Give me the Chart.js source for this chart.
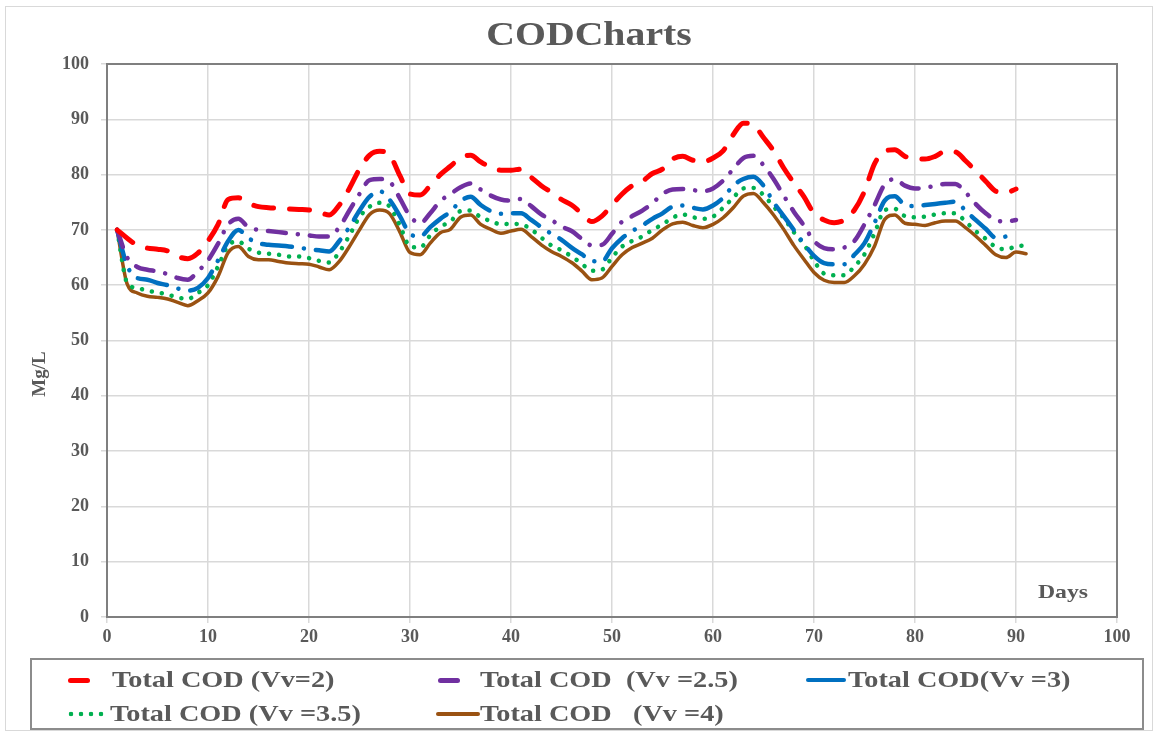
<!DOCTYPE html>
<html>
<head>
<meta charset="utf-8">
<script src="https://cdn.jsdelivr.net/npm/chart.js@4.4.0/dist/chart.umd.min.js"></script>
<style>
  body { margin: 0; background: #fff; }
  #wrap { position: relative; width: 1161px; height: 735px; font-family: "Liberation Serif", "Times New Roman", serif; }
  #frame { position: absolute; left: 5px; top: 6px; width: 1146px; height: 723px; border: 1px solid #d9d9d9; pointer-events: none; }
  #legend { position: absolute; left: 30px; top: 658px; width: 1110px; height: 68px; border: 2px solid #8c8c8c; }
  .item { position: absolute; font-weight: bold; font-size: 23px; color: #595959; white-space: pre; line-height: 24px; transform-origin: 0 50%; transform: scaleX(1.23); }
  .swatch { position: absolute; border-radius: 3px; }
</style>
</head>
<body>
<div id="wrap">
  <canvas id="chart" width="1161" height="735"></canvas>
  <div id="frame"></div>
  <div id="legend"></div>
</div>
<script>
// days on the x axis
const days = [
  1, 2, 3, 4, 5, 6, 7, 8, 9, 10, 11, 12, 13, 14, 15, 16, 17, 18, 19, 20,
  21, 22, 23, 24, 25, 26, 27, 28, 29, 30, 31, 32, 33, 34, 35, 36, 37, 38, 39, 40,
  41, 42, 43, 44, 45, 46, 47, 48, 49, 50, 51, 52, 53, 54, 55, 56, 57, 58, 59, 60,
  61, 62, 63, 64, 65, 66, 67, 68, 69, 70, 71, 72, 73, 74, 75, 76, 77, 78, 79, 80,
  81, 82, 83, 84, 85, 86, 87, 88, 89, 90, 91
];

// Total COD, Vv = 2
const codVv2 = [
  70, 68.5, 67.2, 66.7, 66.5, 66.2, 65.2, 64.8, 65.8, 68,
  71, 75.5, 75.8, 74.8, 74.2, 74, 73.9, 73.8, 73.7, 73.6,
  73.2, 72.7, 74.5, 77.5, 81, 83.5, 84.2, 83.5, 79.8, 76.5,
  76.3, 78, 80, 81.5, 83, 83.5, 82.3, 81.3, 80.8, 80.8,
  81, 79.5, 78, 76.8, 75.5, 74.5, 73, 71.5, 72.5, 74.5,
  76.5, 78, 78.8, 80.2, 81, 82.8, 83.3, 82.6, 82.3, 83,
  84.3, 87.2, 89.3, 89, 86.7, 84.3, 81.2, 78.5, 76, 73,
  71.8, 71.3, 71.8, 73.6, 77, 82, 84.2, 84.5, 83.3, 83,
  82.8, 83.3, 84.2, 84.1, 82.5, 80.7, 78.8, 77, 76.7, 77.4
];

// Total COD, Vv = 2.5
const codVv25 = [
  70, 65, 63.3, 62.8, 62.5, 62, 61.3, 61, 62.5, 64.5,
  67.5, 71, 72, 70.5, 70, 69.8, 69.6, 69.4, 69.2, 69,
  68.8, 68.8, 70.5, 73.5, 76.5, 79, 79.2, 78.7, 75.7, 72.5,
  71.2, 73, 75.2, 76.5, 77.7, 78.4, 77.3, 76.2, 75.5, 75.3,
  75.6, 74.3, 72.8, 71.8, 70.6, 69.8, 68.4, 67.2, 67.3, 69.3,
  71.5, 72.5, 73.5, 74.8, 76.5, 77.3, 77.4, 77.2, 77, 77.5,
  78.9, 81, 83, 83.4, 81.7, 79.2, 76.2, 73.3, 70.8, 68,
  66.7, 66.5, 66.8, 68, 71, 74.5, 78.2, 79.2, 78, 77.5,
  77.6, 78, 78.3, 78.3, 76.8, 74.7, 73, 71.8, 71.5, 71.8
];

// Total COD, Vv = 3
const codVv3 = [
  70, 63.5, 61.3, 61, 60.4, 60, 59.4, 59, 59.5, 61.3,
  64.5, 68, 70, 68.5, 67.6, 67.3, 67.2, 67, 66.8, 66.5,
  66.3, 66.1, 68, 70.5, 73.5, 76, 77, 75.4, 72.5, 69.3,
  68.8, 70.5, 72, 73.3, 75.2, 76, 74.5, 73.4, 72.9, 73,
  73, 71.8, 70.5, 69.3, 68.2, 66.8, 65.6, 64.4, 64.3, 66.7,
  68.5, 69.8, 70.8, 72, 73, 74.2, 74.4, 74, 73.7, 74.4,
  75.8, 78, 79.2, 79.6, 78, 75, 72.5, 70, 67.5, 65.3,
  64, 63.8, 63.8, 65.5, 67.6, 71.3, 75.3, 76.1, 74.5, 74.3,
  74.5, 74.7, 74.9, 75.1, 73.5, 71.8, 70.2, 68.6, 68.8, 69.3
];

// Total COD, Vv = 3.5
const codVv35 = [
  70, 60.4, 59.5, 59, 58.7, 58.3, 57.8, 57.5, 58.6, 60,
  63.4, 67.2, 67.9, 66.6, 65.9, 65.7, 65.5, 65.2, 65.2, 64.9,
  64.4, 64.1, 66, 69, 72.3, 74.2, 74.9, 74.2, 70.8, 67,
  66.8, 69, 70.6, 71.5, 73.4, 73.5, 72.3, 71.6, 71, 71.1,
  71, 70.1, 68.6, 67.2, 66.3, 65.2, 63.9, 62.6, 62.8, 65,
  67, 68, 68.8, 70, 71, 72.2, 72.8, 72.3, 72, 72.4,
  74, 75.8, 77.5, 77.6, 76.3, 74.2, 72.2, 69.6, 67.4, 64.4,
  62.1, 61.8, 61.8, 63.4, 65.6, 69.4, 73.6, 73.8, 72.5, 72.3,
  72.4, 72.8, 73, 73, 71.5, 69.8, 68.4, 66.9, 66.5, 67,
  67.2
];

// Total COD, Vv = 4
const codVv4 = [
  70, 60.2, 58.6, 58, 57.8, 57.5, 56.9, 56.3, 57.2, 58.6,
  61.6, 65.9, 67, 65.2, 64.6, 64.6, 64.3, 64, 63.9, 63.8,
  63.3, 62.8, 64.3, 67, 70, 72.8, 73.6, 72.9, 69.6, 65.9,
  65.5, 67.6, 69.5, 70.1, 72.3, 72.7, 71, 70.1, 69.4, 69.8,
  70.1, 68.8, 67.3, 66.1, 65.2, 64.1, 62.6, 61, 61.3, 63.4,
  65.5, 66.8, 67.6, 68.5, 70, 71.1, 71.4, 70.8, 70.4, 71,
  72.2, 74, 76.1, 76.6, 74.9, 72.7, 70.1, 67.2, 64.7, 62.3,
  60.9, 60.5, 60.5, 61.7, 63.8, 67.1, 71.9, 72.7, 71.2, 71,
  70.8, 71.3, 71.6, 71.6, 70.4, 68.9, 67.2, 65.5, 65, 66,
  65.7
];

const seriesLabels = ['Total COD (Vv=2)', 'Total COD  (Vv =2.5)', 'Total COD(Vv =3)', 'Total COD (Vv =3.5)', 'Total COD   (Vv =4)'];
const xTicks = { min: 0, max: 100, step: 10 };
const yTicks = { min: 0, max: 100, step: 10 };

const FONT = '"Liberation Serif", "Times New Roman", serif';
const GREY = '#595959';

function pts(values) {
  return values.map((v, i) => ({ x: days[i], y: v }));
}

function line(label, values, color, width, dash) {
  return {
    label: label,
    data: pts(values),
    borderColor: color,
    backgroundColor: color,
    borderWidth: width,
    borderDash: dash,
    borderCapStyle: 'round',
    borderJoinStyle: 'round',
    pointRadius: 0,
    cubicInterpolationMode: 'monotone',
    fill: false
  };
}

// stretched text, the source chart's fonts are a bit wide
function wideText(ctx, text, x, y, sx) {
  ctx.save();
  ctx.translate(x, y);
  ctx.scale(sx, 1);
  ctx.fillText(text, 0, 0);
  ctx.restore();
}

const extras = {
  id: 'extras',
  afterDraw(chart) {
    const ctx = chart.ctx;
    const a = chart.chartArea;
    ctx.save();
    ctx.strokeStyle = '#7f7f7f';
    ctx.lineWidth = 2;
    ctx.strokeRect(a.left, a.top, a.right - a.left, a.bottom - a.top);
    ctx.fillStyle = GREY;
    ctx.textAlign = 'center';
    ctx.textBaseline = 'middle';
    ctx.font = 'bold 34px ' + FONT;
    wideText(ctx, 'CODCharts', 589, 36, 1.17);
    ctx.font = 'bold 19px ' + FONT;
    wideText(ctx, 'Days', a.right - 54, a.bottom - 24, 1.25);
    ctx.translate(40, 374);
    ctx.rotate(-Math.PI / 2);
    ctx.fillText('Mg/L', 0, 0);
    ctx.restore();
  }
};

new Chart(document.getElementById('chart'), {
  type: 'line',
  data: {
    datasets: [
      line(seriesLabels[0], codVv2, '#ff0000', 5, [20, 16]),
      line(seriesLabels[1], codVv25, '#7030a0', 4.5, [18, 12, 0.1, 12]),
      line(seriesLabels[2], codVv3, '#0070c0', 4.5, [30, 12, 0.1, 12]),
      line(seriesLabels[3], codVv35, '#00b050', 4.5, [0.1, 10]),
      line(seriesLabels[4], codVv4, '#9a5212', 3.5, [])
    ]
  },
  options: {
    responsive: false,
    animation: false,
    devicePixelRatio: 1,
    layout: { padding: { left: 20, right: 44, top: 64, bottom: 88 } },
    plugins: {
      legend: { display: false },
      tooltip: { enabled: false },
      title: { display: false }
    },
    scales: {
      x: {
        type: 'linear',
        min: xTicks.min,
        max: xTicks.max,
        afterFit: s => { s.height = 30; },
        ticks: { stepSize: xTicks.step, color: GREY, font: { family: FONT, size: 18, weight: 'bold' }, padding: 4 },
        grid: { color: '#d9d9d9', lineWidth: 1.5, tickLength: 6 },
        border: { display: false }
      },
      y: {
        min: yTicks.min,
        max: yTicks.max,
        afterFit: s => { s.width = 87; },
        ticks: { stepSize: yTicks.step, color: GREY, font: { family: FONT, size: 18, weight: 'bold' }, padding: 12 },
        grid: { color: '#d9d9d9', lineWidth: 1.5, tickLength: 6 },
        border: { display: false }
      }
    }
  },
  plugins: [extras]
});

// legend below the plot
const legend = document.getElementById('legend');
const legendItems = [
  { text: seriesLabels[0], left: 80, top: 8, sw: { left: 36, w: 22, h: 5, bg: '#ff0000' } },
  { text: seriesLabels[1], left: 448, top: 8, sw: { left: 406, w: 22, h: 5, bg: '#7030a0' } },
  { text: seriesLabels[2], left: 816, top: 8, sw: { left: 774, w: 40, h: 4, bg: '#0070c0' } },
  { text: seriesLabels[3], left: 78, top: 42, dots: { left: 34, w: 42, color: '#00b050' } },
  { text: seriesLabels[4], left: 448, top: 42, sw: { left: 404, w: 44, h: 4, bg: '#9a5212' } }
];
legendItems.forEach(it => {
  const t = document.createElement('div');
  t.className = 'item';
  t.style.left = it.left + 'px';
  t.style.top = it.top + 'px';
  t.textContent = it.text;
  legend.appendChild(t);
  const s = document.createElement('div');
  s.className = 'swatch';
  if (it.sw) {
    s.style.left = it.sw.left + 'px';
    s.style.top = (it.top + 12 - it.sw.h / 2) + 'px';
    s.style.width = it.sw.w + 'px';
    s.style.height = it.sw.h + 'px';
    s.style.background = it.sw.bg;
  } else {
    s.style.left = it.dots.left + 'px';
    s.style.top = (it.top + 9) + 'px';
    s.style.width = it.dots.w + 'px';
    s.style.height = '6px';
    s.style.background = 'radial-gradient(circle, ' + it.dots.color + ' 2px, transparent 2.6px) 0 0 / 10px 6px repeat-x';
  }
  legend.appendChild(s);
});
</script>
</body>
</html>
